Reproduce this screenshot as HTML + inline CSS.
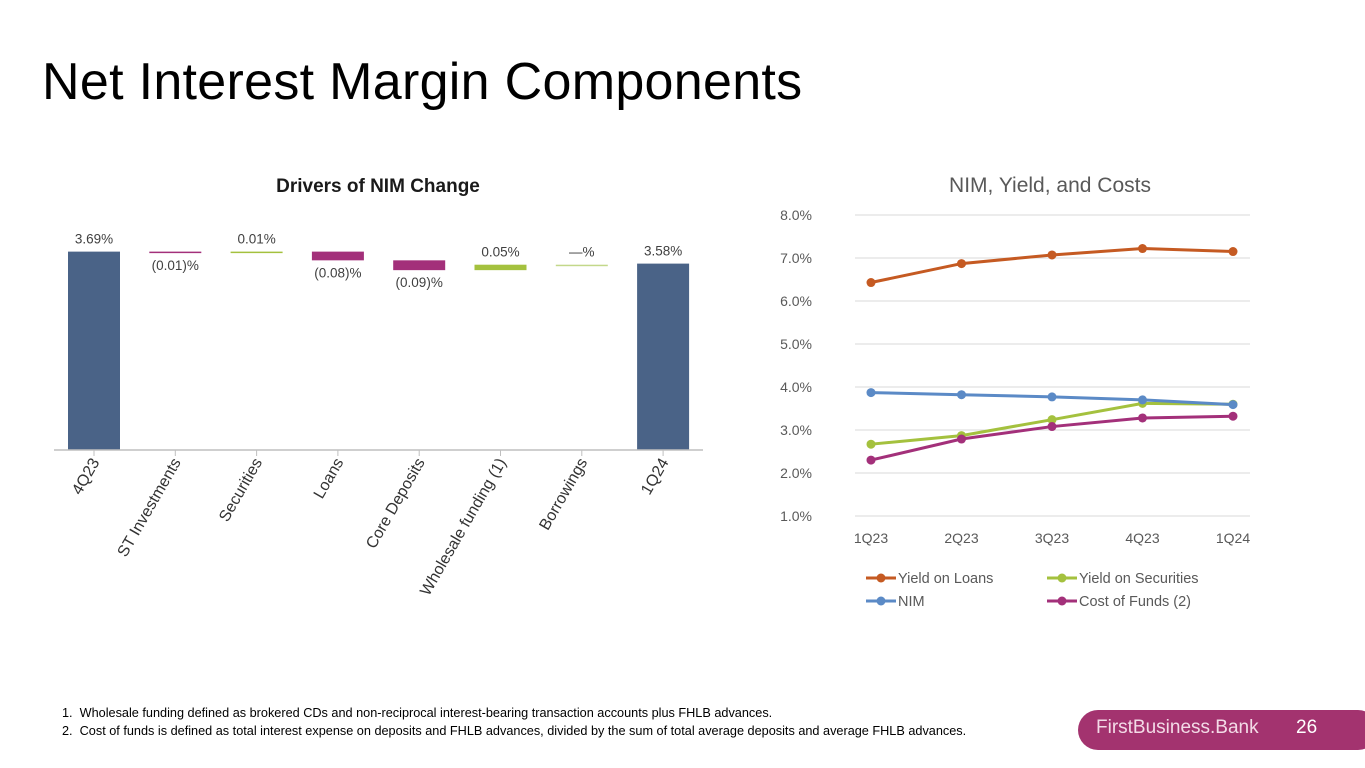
<!DOCTYPE html>
<html><head><meta charset="utf-8"><style>
body{margin:0;width:1365px;height:768px;background:#fff;font-family:"Liberation Sans",sans-serif;overflow:hidden;position:relative}
.t{position:absolute;white-space:nowrap}
</style></head><body>
<div class="t" style="left:42px;top:52px;font-size:52px;letter-spacing:0.3px;color:#000">Net Interest Margin Components</div>
<svg width="1365" height="768" style="position:absolute;left:0;top:0">
<g id="wf"></g>
<g id="lc"></g>
</svg>
<div class="t" style="left:62px;top:704px;font-size:12.7px;line-height:18px;color:#000">1.&nbsp;&nbsp;Wholesale funding defined as brokered CDs and non-reciprocal interest-bearing transaction accounts plus FHLB advances.<br>2.&nbsp;&nbsp;Cost of funds is defined as total interest expense on deposits and FHLB advances, divided by the sum of total average deposits and average FHLB advances.</div>
<div style="position:absolute;left:1078px;top:710px;width:300px;height:40px;border-radius:20px;background:#a3336f"></div>
<div class="t" style="left:1096px;top:717px;font-size:19px;color:#f3dbe7">FirstBusiness.Bank</div>
<div class="t" style="left:1296px;top:717px;font-size:19px;color:#fff">26</div>
<script>
const NS="http://www.w3.org/2000/svg";
function mk(p,tag,at,txt){const e=document.createElementNS(NS,tag);for(const k in at)e.setAttribute(k,at[k]);if(txt!=null)e.textContent=txt;p.appendChild(e);return e;}
// Waterfall data
const wfCats=["4Q23","ST Investments","Securities","Loans","Core Deposits","Wholesale funding (1)","Borrowings","1Q24"];
const wfVals=[3.69,-0.01,0.01,-0.08,-0.09,0.05,0,3.58];
const wfLabels=["3.69%","(0.01)%","0.01%","(0.08)%","(0.09)%","0.05%","—%","3.58%"];
const wfTotal=[true,false,false,false,false,false,false,true];
// Line data
const lcCats=["1Q23","2Q23","3Q23","4Q23","1Q24"];
const loans=[6.43,6.87,7.07,7.22,7.15];
const secs=[2.67,2.87,3.24,3.62,3.60];
const nim=[3.87,3.82,3.77,3.70,3.59];
const cof=[2.30,2.79,3.08,3.28,3.32];
const yTicks=[1,2,3,4,5,6,7,8];

const wf=document.getElementById('wf');
let e=mk(wf,'text',{x:378,y:192,'text-anchor':'middle','font-size':19,'font-weight':'bold',fill:'#1a1a1a'},'Drivers of NIM Change');

const base=1.87,k=109,y0=450;
const wy=v=>y0-(v-base)*k;
const wx=i=>94+i*81.3;
let run=0;
wfVals.forEach((v,i)=>{
  let a,b,col;
  if(wfTotal[i]){a=v;b=base;col='#4a6387';run=v;}
  else{a=run;b=run+v;run=b;col=v<0?'#a3307a':'#a4c13e';}
  let top=wy(Math.max(a,b)),h=Math.max(Math.abs(wy(a)-wy(b)),1.5);
  if(!wfTotal[i]&&v===0)col='#c3d88a';
  const r=mk(wf,'rect',{x:wx(i)-26,y:top,width:52,height:h,fill:col});
  
  const ly=(wfTotal[i]||v>=0)?top-8:top+h+17;
  const t=mk(wf,'text',{x:wx(i),y:ly,'text-anchor':'middle','font-size':13.5,fill:'#404040'},wfLabels[i]);
  
  mk(wf,'line',{x1:wx(i),x2:wx(i),y1:y0,y2:y0+6,stroke:'#bfbfbf'});
  const c=mk(wf,'text',{transform:`translate(${wx(i)+6},${y0+12}) rotate(-60)`,'text-anchor':'end','font-size':16,fill:'#333'},wfCats[i]);
  
});
mk(wf,'line',{x1:54,x2:703,y1:y0,y2:y0,stroke:'#bfbfbf','stroke-width':1.5});

const lc=document.getElementById('lc');
e=mk(lc,'text',{x:1050,y:192,'text-anchor':'middle','font-size':21,fill:'#595959'},'NIM, Yield, and Costs');

const ly=v=>516-(v-1)*43;
const lx=i=>871+i*90.5;
yTicks.forEach(v=>{
  mk(lc,'line',{x1:855,x2:1250,y1:ly(v),y2:ly(v),stroke:'#d9d9d9'});
  const t=mk(lc,'text',{x:812,y:ly(v)+5,'text-anchor':'end','font-size':14,fill:'#595959'},v.toFixed(1)+'%');
  
});
lcCats.forEach((c,i)=>{const t=mk(lc,'text',{x:lx(i),y:543,'text-anchor':'middle','font-size':14,fill:'#595959'},c);
  });
const series=[[secs,'#a4c13e','yield-on-securities'],[cof,'#a3307a','cost-of-funds'],[nim,'#5b8ac6','nim'],[loans,'#c55a22','yield-on-loans']];
series.forEach(([d,col,n])=>{
  const l=mk(lc,'polyline',{points:d.map((v,i)=>lx(i)+','+ly(v)).join(' '),fill:'none',stroke:col,'stroke-width':3});
  
  d.forEach((v,i)=>{const p=mk(lc,'circle',{cx:lx(i),cy:ly(v),r:4.5,fill:col});
    });
});
const leg=[[866,578,'#c55a22','Yield on Loans'],[1047,578,'#a4c13e','Yield on Securities'],[866,601,'#5b8ac6','NIM'],[1047,601,'#a3307a','Cost of Funds (2)']];
leg.forEach(([x,y,c,t])=>{
  const g=mk(lc,'g',{});
  mk(g,'line',{x1:x,x2:x+30,y1:y,y2:y,stroke:c,'stroke-width':3});
  mk(g,'circle',{cx:x+15,cy:y,r:4.5,fill:c});
  mk(g,'text',{x:x+32,y:y+5,'font-size':14.5,fill:'#595959'},t);
});
</script>
</body></html>
